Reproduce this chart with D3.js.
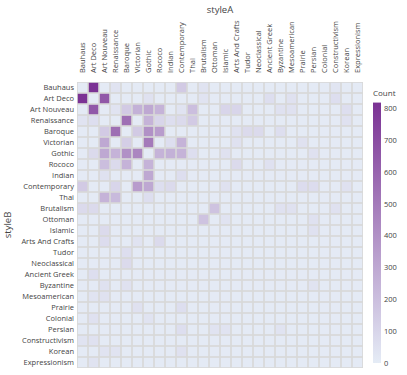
<!DOCTYPE html>
<html>
<head>
<meta charset="utf-8">
<script src="https://cdn.jsdelivr.net/npm/d3@7"></script>
<style>
  body { margin: 0; background: #fff; }
  svg text { font-family: "Open Sans", sans-serif; fill: #444; }
</style>
</head>
<body>
<svg id="chart" width="407" height="375"></svg>
<script>
// styleA along the top, styleB down the side
const stylesA = ['Bauhaus', 'Art Deco', 'Art Nouveau', 'Renaissance', 'Baroque', 'Victorian', 'Gothic', 'Rococo',
  'Indian', 'Contemporary', 'Thai', 'Brutalism', 'Ottoman', 'Islamic', 'Arts And Crafts', 'Tudor', 'Neoclassical',
  'Ancient Greek', 'Byzantine', 'Mesoamerican', 'Prairie', 'Persian', 'Colonial', 'Constructivism', 'Korean', 'Expressionism'];
const stylesB = ['Bauhaus', 'Art Deco', 'Art Nouveau', 'Renaissance', 'Baroque', 'Victorian', 'Gothic', 'Rococo',
  'Indian', 'Contemporary', 'Thai', 'Brutalism', 'Ottoman', 'Islamic', 'Arts And Crafts', 'Tudor', 'Neoclassical',
  'Ancient Greek', 'Byzantine', 'Mesoamerican', 'Prairie', 'Colonial', 'Persian', 'Constructivism', 'Korean', 'Expressionism'];

// counts, one row per styleB, columns in stylesA order
const counts = [
  [10,817,10,40,10,10,10,10,10,150,10,40,10,10,10,10,10,10,10,10,10,10,10,30,10,10],
  [817,10,650,10,10,10,50,10,10,10,10,40,10,10,10,10,10,60,10,50,10,10,10,60,10,10],
  [10,650,10,40,150,260,300,250,10,40,200,10,10,100,100,10,10,10,50,50,10,10,10,10,60,10],
  [40,60,10,10,550,10,250,100,60,80,150,10,10,10,10,10,10,10,10,10,10,10,10,10,50,10],
  [10,10,150,550,10,150,400,350,10,10,10,10,10,10,50,80,80,10,60,10,10,10,10,10,10,10],
  [10,10,300,10,130,10,500,10,60,250,10,10,10,10,50,10,10,10,10,10,50,10,10,10,10,10],
  [10,80,300,250,400,450,10,250,260,250,60,10,10,50,10,10,10,10,10,10,10,50,10,10,10,10],
  [10,10,200,80,250,10,250,10,10,10,10,10,10,10,80,10,10,50,10,10,10,10,10,10,10,10],
  [10,10,50,10,10,10,300,10,10,60,10,10,10,10,10,10,10,10,10,10,10,10,10,10,10,10],
  [150,10,10,100,10,350,300,60,80,10,10,10,10,50,10,10,10,10,10,10,70,70,10,10,50,10],
  [10,10,250,220,10,10,60,10,10,10,10,10,10,10,10,10,10,10,10,10,10,10,10,10,10,10],
  [80,80,10,10,10,10,10,10,10,10,10,10,180,10,10,10,10,10,50,50,10,10,10,50,10,10],
  [10,10,10,10,10,10,10,10,10,10,10,180,10,40,10,10,10,10,10,10,10,50,10,10,10,10],
  [10,10,80,10,10,10,10,10,10,10,10,10,10,10,10,10,10,10,10,10,10,50,10,10,10,10],
  [10,10,70,10,10,40,10,80,10,10,10,10,10,10,10,10,10,10,10,10,10,10,10,10,10,10],
  [10,10,10,10,60,10,10,10,10,10,10,10,10,10,10,10,10,10,10,10,10,10,10,10,10,10],
  [10,10,10,10,80,10,10,10,10,10,10,10,10,10,10,10,10,10,10,10,10,10,10,10,10,10],
  [10,60,10,10,10,10,10,10,10,10,10,10,10,10,10,10,10,10,10,10,10,10,10,10,10,10],
  [10,10,50,10,50,10,10,10,10,10,10,10,10,10,10,10,10,10,10,10,10,40,10,10,10,10],
  [10,40,50,10,10,10,10,10,10,10,10,10,10,10,10,10,10,10,10,10,10,10,10,10,10,10],
  [10,10,10,10,10,50,10,10,10,60,10,10,10,10,10,10,10,10,10,10,10,10,10,10,10,10],
  [10,50,10,10,10,10,40,10,10,10,10,10,10,10,10,10,10,10,10,10,10,10,10,10,10,10],
  [10,10,10,10,10,10,10,10,10,60,10,10,40,40,10,10,10,10,40,10,10,10,10,10,10,10],
  [40,50,10,10,10,10,10,10,10,10,10,10,10,10,10,10,10,10,10,10,10,10,10,10,10,10],
  [10,10,40,40,10,10,10,10,10,50,10,10,10,10,10,10,10,10,10,10,10,10,10,10,10,10],
  [10,40,10,10,10,10,10,10,10,10,10,10,10,10,10,10,10,10,10,10,10,10,10,10,10,10]
];
const colorTicks = [0, 100, 200, 300, 400, 500, 600, 700, 800];

const svg = d3.select('#chart');
const plot = { left: 77, right: 363, top: 82, bottom: 368 };

const cells = [];
counts.forEach((row, i) => row.forEach((v, j) => cells.push({ a: stylesA[j], b: stylesB[i], v })));
const zmax = d3.max(cells, d => d.v);

const x = d3.scaleBand().domain(stylesA).range([plot.left, plot.right]);
const y = d3.scaleBand().domain(stylesB).range([plot.top, plot.bottom]);
const color = d3.scaleLinear().domain([0, zmax]).range(['#e5ecf6', '#7b3294']).interpolate(d3.interpolateRgb);

// gap colour behind the cells
svg.append('rect')
  .attr('x', plot.left).attr('y', plot.top)
  .attr('width', plot.right - plot.left).attr('height', plot.bottom - plot.top)
  .attr('fill', '#d8d8d8');

const gap = 1.6;
svg.append('g').selectAll('rect')
  .data(cells)
  .enter()
  .append('rect')
  .attr('x', d => x(d.a) + gap / 2)
  .attr('y', d => y(d.b) + gap / 2)
  .attr('width', x.bandwidth() - gap)
  .attr('height', y.bandwidth() - gap)
  .attr('fill', d => color(d.v));

// top axis, labels turned upright
const xAxis = svg.append('g')
  .attr('transform', `translate(0,${plot.top})`)
  .call(d3.axisTop(x).tickSize(0));
xAxis.select('.domain').remove();
xAxis.selectAll('text')
  .attr('transform', 'rotate(-90)')
  .attr('text-anchor', 'start')
  .attr('x', 9)
  .attr('y', 0)
  .attr('dy', '0.32em')
  .style('font-size', '7.5px');

const yAxis = svg.append('g')
  .attr('transform', `translate(${plot.left},0)`)
  .call(d3.axisLeft(y).tickSize(0).tickPadding(3));
yAxis.select('.domain').remove();
yAxis.selectAll('text').style('font-size', '7.5px');

svg.append('text')
  .attr('x', (plot.left + plot.right) / 2)
  .attr('y', 13)
  .attr('text-anchor', 'middle')
  .style('font-size', '9.5px')
  .text('styleA');

svg.append('text')
  .attr('transform', `translate(11,${(plot.top + plot.bottom) / 2}) rotate(-90)`)
  .attr('text-anchor', 'middle')
  .style('font-size', '9.5px')
  .text('styleB');

// colour bar
const cb = { x: 373, w: 8 };
const cbScale = d3.scaleLinear().domain([0, 800]).range([363, 108]);

const grad = svg.append('defs').append('linearGradient')
  .attr('id', 'cbgrad')
  .attr('x1', 0).attr('y1', 1).attr('x2', 0).attr('y2', 0);
grad.append('stop').attr('offset', '0%').attr('stop-color', color(0));
grad.append('stop').attr('offset', '100%').attr('stop-color', color(zmax));

svg.append('rect')
  .attr('x', cb.x)
  .attr('y', cbScale(zmax))
  .attr('width', cb.w)
  .attr('height', cbScale(0) - cbScale(zmax))
  .attr('fill', 'url(#cbgrad)');

const cbAxis = svg.append('g')
  .attr('transform', `translate(${cb.x + cb.w},0)`)
  .call(d3.axisRight(cbScale).tickValues(colorTicks).tickSize(0).tickPadding(3));
cbAxis.select('.domain').remove();
cbAxis.selectAll('text').style('font-size', '7.5px');

svg.append('text')
  .attr('x', cb.x)
  .attr('y', 96)
  .style('font-size', '8px')
  .text('Count');
</script>
</body>
</html>
